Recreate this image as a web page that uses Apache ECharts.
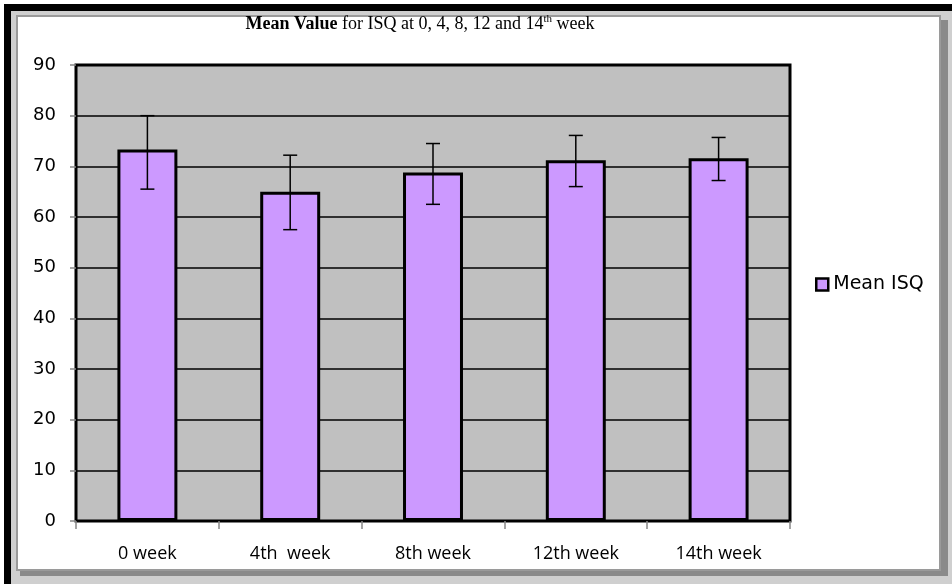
<!DOCTYPE html>
<html>
<head>
<meta charset="utf-8">
<script src="https://cdn.jsdelivr.net/npm/echarts@6/dist/echarts.min.js"></script>
<style>
  html, body { margin: 0; padding: 0; background: #fff; }
  #isq_chart { width: 952px; height: 584px; }
</style>
</head>
<body>
<div id="isq_chart"></div>
<script>
var weeks = ['0 week', '4th  week', '8th week', '12th week', '14th week'];
var meanIsq = [73.3, 65, 68.8, 71.2, 71.6];
var errLow = [65.5, 57.5, 62.5, 66, 67.2];
var errHigh = [80, 72.2, 74.5, 76.1, 75.7];
var yTicks = [0, 10, 20, 30, 40, 50, 60, 70, 80, 90];

var isq_chart = document.getElementById('isq_chart');
var isq_myChart = echarts.init(isq_chart);

var errData = [];
weeks.forEach(function (w, idx) {
    errData.push([idx, errLow[idx], errHigh[idx]]);
});

var option = {
    animation: false,
    graphic: [
        // outer frame
        { type: 'rect', z: -10, shape: { x: 4, y: 4, width: 948, height: 580 }, style: { fill: '#000' } },
        { type: 'rect', z: -9, shape: { x: 11, y: 11, width: 941, height: 573 }, style: { fill: '#cfcfcf' } },
        { type: 'rect', z: -8, shape: { x: 20, y: 20, width: 928, height: 556 }, style: { fill: '#8a8a8a' } },
        { type: 'rect', z: -7, shape: { x: 17, y: 16, width: 923, height: 554 }, style: { fill: '#fff', stroke: '#9a9a9a', lineWidth: 2 } }
    ],
    title: {
        text: '{b|Mean Value}{n| for ISQ at 0, 4, 8, 12 and 14}{sup|th}{n| week}',
        left: 415,
        top: 9,
        textAlign: 'center',
        textStyle: {
            rich: {
                b: { fontFamily: 'Liberation Serif', fontSize: 18, fontWeight: 'bold', color: '#000', lineHeight: 21 },
                n: { fontFamily: 'Liberation Serif', fontSize: 18, fontWeight: 'normal', color: '#000', lineHeight: 21 },
                sup: { fontFamily: 'Liberation Serif', fontSize: 11, fontWeight: 'normal', color: '#000', verticalAlign: 'top', lineHeight: 21 }
            }
        }
    },
    legend: {
        data: ['Mean ISQ'],
        orient: 'vertical',
        left: 810,
        top: 270,
        icon: 'rect',
        itemWidth: 12,
        itemHeight: 12,
        itemGap: 6,
        itemStyle: {
            borderColor: '#000',
            borderWidth: 2.5
        },
        textStyle: {
            fontFamily: 'DejaVu Sans',
            fontSize: 19,
            color: '#000'
        }
    },
    grid: {
        left: 76,
        right: 162,
        top: 65,
        bottom: 63,
        show: true,
        backgroundColor: '#C0C0C0',
        borderColor: '#000',
        borderWidth: 3
    },
    xAxis: {
        type: 'category',
        data: weeks,
        axisLine: { show: true, lineStyle: { color: '#000', width: 2 } },
        axisTick: { show: true, length: 8, lineStyle: { color: '#888', width: 1.5 } },
        axisLabel: {
            margin: 24,
            fontFamily: 'Open Sans',
            fontSize: 18,
            color: '#000'
        },
        splitLine: { show: false }
    },
    yAxis: {
        type: 'value',
        min: yTicks[0],
        max: yTicks[yTicks.length - 1],
        interval: 10,
        axisLine: { show: true, lineStyle: { color: '#000', width: 1 } },
        axisTick: { show: true, length: 6, lineStyle: { color: '#888', width: 1.5 } },
        axisLabel: {
            margin: 20,
            fontFamily: 'DejaVu Sans',
            fontSize: 18,
            color: '#000'
        },
        splitLine: {
            show: true,
            lineStyle: { color: '#000', width: 1.5 }
        }
    },
    series: [
        {
            name: 'Mean ISQ',
            type: 'bar',
            data: meanIsq,
            barWidth: '42%',
            itemStyle: {
                color: '#CC99FF',
                borderColor: '#000',
                borderWidth: 3
            },
            z: 3
        },
        {
            name: 'error',
            type: 'custom',
            data: errData,
            z: 5,
            renderItem: function (params, api) {
                var idx = api.value(0);
                var lo = api.coord([idx, api.value(1)]);
                var hi = api.coord([idx, api.value(2)]);
                var cap = 7;
                var st = { stroke: '#000', lineWidth: 1.5 };
                return {
                    type: 'group',
                    children: [
                        { type: 'line', shape: { x1: hi[0], y1: hi[1], x2: lo[0], y2: lo[1] }, style: st },
                        { type: 'line', shape: { x1: hi[0] - cap, y1: hi[1], x2: hi[0] + cap, y2: hi[1] }, style: st },
                        { type: 'line', shape: { x1: lo[0] - cap, y1: lo[1], x2: lo[0] + cap, y2: lo[1] }, style: st }
                    ]
                };
            }
        }
    ]
};

option && isq_myChart.setOption(option);
new ResizeObserver(() => isq_myChart.resize()).observe(isq_chart);
</script>
</body>
</html>
